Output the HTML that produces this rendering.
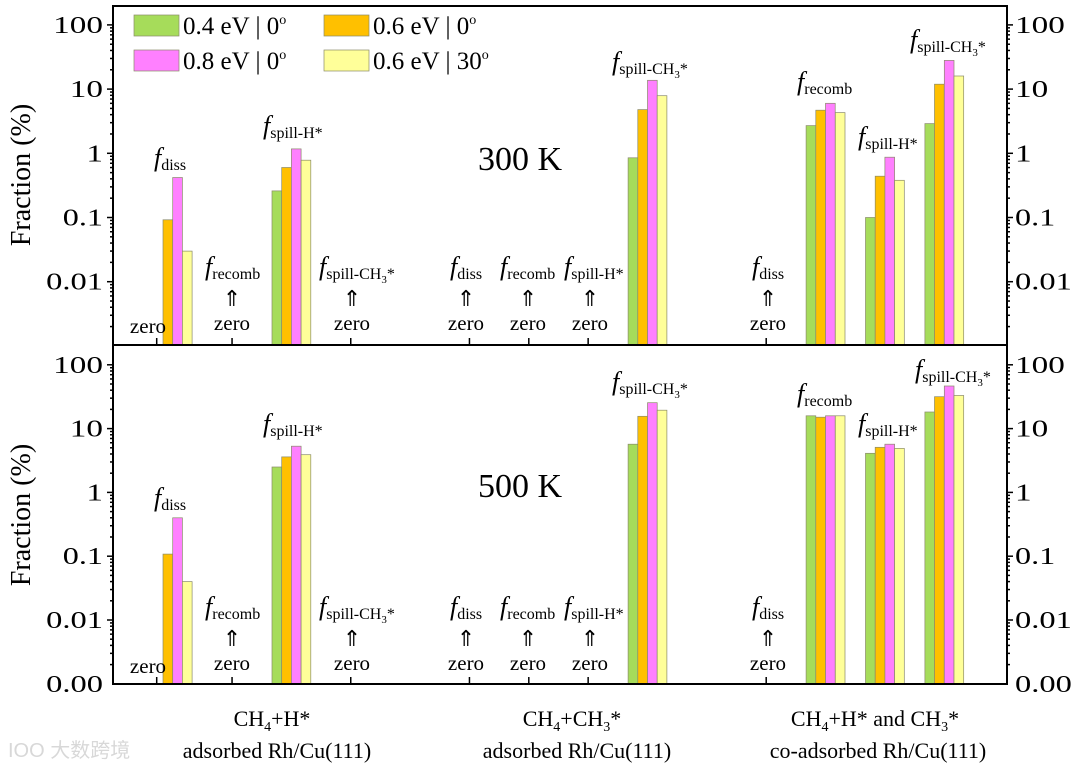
<!DOCTYPE html>
<html><head><meta charset="utf-8">
<style>
html,body{margin:0;padding:0;background:#fff;}
svg{display:block;font-family:"Liberation Serif",serif;}
</style></head>
<body>
<svg id="chart" width="1080" height="768" viewBox="0 0 1080 768" xmlns="http://www.w3.org/2000/svg">
<g id="marks"></g>
<g id="axes"></g>
<g id="annot" font-family="Liberation Serif, serif" fill="#000"></g>
</svg>
<script>
// ---- data ----
const seriesNames = ["0.4 eV | 0º","0.6 eV | 0º","0.8 eV | 0º","0.6 eV | 30º"];
const seriesColors = ["#a6dc5a","#ffc000","#ff80ff","#ffff99"];
// category index slots (0..13) for bar groups
const groupSlots = [0, 2, 8, 11, 12, 13];
const groupLabels = ["diss-h","spillH-h","spillCH3-ch3","recomb-co","spillH-co","spillCH3-co"];
// null = zero (no bar)
const top300_s1 = [null, 0.26, 0.85, 2.7, 0.10, 2.9];
const top300_s2 = [0.092, 0.60, 4.8, 4.7, 0.44, 11.9];
const top300_s3 = [0.42, 1.17, 13.7, 6.0, 0.87, 28];
const top300_s4 = [0.030, 0.78, 7.9, 4.3, 0.38, 16];
const bot500_s1 = [null, 2.5, 5.7, 15.9, 4.1, 18.2];
const bot500_s2 = [0.108, 3.6, 15.6, 15.1, 5.1, 31.6];
const bot500_s3 = [0.40, 5.3, 25.5, 15.9, 5.7, 46.5];
const bot500_s4 = [0.040, 3.9, 19.4, 15.9, 4.9, 33];
const yTickValues = [0.01, 0.1, 1, 10, 100];
const yTickLabels = ["0.01","0.1","1","10","100"];
const zeroSlots = [1, 3, 5, 6, 7, 10];

const NS="http://www.w3.org/2000/svg";
const L=113, R=1007;
const panels=[
  {top:6, bottom:345, y1000:281.7, dec:64.2, data:[top300_s1,top300_s2,top300_s3,top300_s4], name:"300k"},
  {top:345, bottom:684, y1000:620, dec:63.8, data:[bot500_s1,bot500_s2,bot500_s3,bot500_s4], name:"500k"}
];
function xSlot(i){return 172.7+59.35*i;}
function yOf(p,v){return p.y1000-(Math.log10(v)+2)*p.dec;}
function mk(tag,attrs,parent){const e=document.createElementNS(NS,tag);for(const k in attrs)e.setAttribute(k,attrs[k]);parent.appendChild(e);return e;}
function tlen(s){let w=0;for(const c of s)w+=(c==='.')?7:16.6;return w;}
const marks=document.getElementById('marks'), axes=document.getElementById('axes');
const BW=9.7;
panels.forEach(p=>{
  p.data.forEach((ser,s)=>{
    ser.forEach((v,g)=>{
      if(v==null)return;
      const x=xSlot(groupSlots[g])+(s-2)*BW;
      const y=yOf(p,v);
      const r=mk('rect',{x:x.toFixed(1),y:y.toFixed(1),width:BW,height:(p.bottom-y).toFixed(1),fill:seriesColors[s],stroke:"#8a8a6a","stroke-width":0.7},marks);
      
      
    });
  });
  const fr=mk('rect',{x:L,y:p.top,width:R-L,height:p.bottom-p.top,fill:"none",stroke:"#000","stroke-width":2},axes);
  
  
  for(let d=-3; d<=2; d++){
    for(let m=1;m<=9;m++){
      const v=Math.pow(10,d)*m;
      const y=yOf(p,v);
      if(y<p.top+1||y>p.bottom-1)continue;
      const len=(m===1)?6:3;
      mk('line',{x1:L-len,x2:L,y1:y,y2:y,stroke:"#000","stroke-width":1.5},axes);
      mk('line',{x1:R,x2:R+len,y1:y,y2:y,stroke:"#000","stroke-width":1.5},axes);
    }
  }
  yTickValues.forEach((v,i)=>{
    const y=yOf(p,v)+8;
    const lab=yTickLabels[i];
    const t1=mk('text',{x:103-tlen(lab),y:y,"font-size":24,textLength:tlen(lab),lengthAdjust:"spacingAndGlyphs"},axes);t1.textContent=lab;
    
    
    const t2=mk('text',{x:1015,y:y,"font-size":24,textLength:tlen(lab),lengthAdjust:"spacingAndGlyphs"},axes);t2.textContent=lab;
    
    
  });
  const ticks=[xSlot(0)-16].concat(zeroSlots.map(xSlot));
  ticks.forEach(x=>mk('line',{x1:x,x2:x,y1:p.bottom,y2:p.bottom-7,stroke:"#000","stroke-width":1.5},axes));
});
(function(){const w=tlen("0.00");
const t1=mk('text',{x:103-w,y:692,"font-size":24,textLength:w,lengthAdjust:"spacingAndGlyphs"},axes);t1.textContent="0.00";

const t2=mk('text',{x:1015,y:692,"font-size":24,textLength:w,lengthAdjust:"spacingAndGlyphs"},axes);t2.textContent="0.00";
})();
</script>
<script>
const A=document.getElementById('annot');
let h='';
function fl(x,y,sub,nm){return `<text x="${x}" y="${y}" font-size="26"><tspan font-style="italic">f</tspan><tspan font-size="16" dy="4">${sub}</tspan></text>`;}
const CH3='spill-CH<tspan font-size="11" dy="4">3</tspan><tspan dy="-4">*</tspan>';
function zero(x,y,arrow,nm){return (arrow?`<text x="${x}" y="${y-24}" font-size="22" text-anchor="middle">⇑</text>`:'')+`<text x="${x}" y="${y}" font-size="21" text-anchor="middle">zero</text>`;}
[[0,0],[1,340]].forEach(([pi,o])=>{
  h+=zero(148,333+o,false,'zero-label');
  h+=fl(205,275+o,'recomb','label-f-recomb');h+=zero(232,330+o,true,'zero-label');
  h+=fl(319,275+o,CH3,'label-f-spill-ch3');h+=zero(352,330+o,true,'zero-label');
  h+=fl(450,275+o,'diss','label-f-diss');h+=zero(466,330+o,true,'zero-label');
  h+=fl(500,275+o,'recomb','label-f-recomb');h+=zero(528,330+o,true,'zero-label');
  h+=fl(564,275+o,'spill-H*','label-f-spill-h');h+=zero(590,330+o,true,'zero-label');
  h+=fl(752,275+o,'diss','label-f-diss');h+=zero(768,330+o,true,'zero-label');
});
h+=fl(154,166,'diss','label-f-diss');h+=fl(263,134,'spill-H*','label-f-spill-h');
h+=fl(612,70,CH3,'label-f-spill-ch3');h+=fl(797,90,'recomb','label-f-recomb');
h+=fl(858,145,'spill-H*','label-f-spill-h');h+=fl(910,48,CH3,'label-f-spill-ch3');
h+=fl(154,506,'diss','label-f-diss');h+=fl(263,432,'spill-H*','label-f-spill-h');
h+=fl(612,390,CH3,'label-f-spill-ch3');h+=fl(797,402,'recomb','label-f-recomb');
h+=fl(858,432,'spill-H*','label-f-spill-h');h+=fl(915,378,CH3,'label-f-spill-ch3');
h+=`<text x="520" y="170" font-size="34" text-anchor="middle">300 K</text>`;
h+=`<text x="520" y="497" font-size="34" text-anchor="middle">500 K</text>`;
const lg=[[134,15,0,183],[324,15,1,373],[134,50,2,183],[324,50,3,373]];
const cols=["#a6dc5a","#ffc000","#ff80ff","#ffff99"];
const nm=[["0.4 eV | 0","o"],["0.6 eV | 0","o"],["0.8 eV | 0","o"],["0.6 eV | 30","o"]];
lg.forEach(([x,y,i,tx])=>{
  h+=`<g><rect x="${x}" y="${y}" width="45" height="21" fill="${cols[i]}" stroke="#8a8a6a" stroke-width="0.7"/><text x="${tx}" y="${y+19}" font-size="25">${nm[i][0]}<tspan font-size="14" dy="-10">${nm[i][1]}</tspan></text></g>`;
});
h+=`<text transform="translate(30,175) rotate(-90)" font-size="28" text-anchor="middle">Fraction (%)</text>`;
h+=`<text transform="translate(30,515) rotate(-90)" font-size="28" text-anchor="middle">Fraction (%)</text>`;
const sub4='<tspan font-size="14" dy="5">4</tspan><tspan dy="-5">';
const sub3='<tspan font-size="14" dy="5">3</tspan><tspan dy="-5">';
h+=`<text x="272" y="726" font-size="22" text-anchor="middle">CH${sub4}+H*</tspan></text>`;
h+=`<text x="572" y="726" font-size="22" text-anchor="middle">CH${sub4}+CH${sub3}*</tspan></tspan></text>`;
h+=`<text x="875" y="726" font-size="22" text-anchor="middle">CH${sub4}+H* and CH${sub3}*</tspan></tspan></text>`;
h+=`<text x="277" y="758" font-size="22" text-anchor="middle">adsorbed Rh/Cu(111)</text>`;
h+=`<text x="577" y="758" font-size="22" text-anchor="middle">adsorbed Rh/Cu(111)</text>`;
h+=`<text x="878" y="758" font-size="22" text-anchor="middle">co-adsorbed Rh/Cu(111)</text>`;
h+=`<text x="8" y="757" font-size="20" fill="#d8d8d8" font-family="Liberation Sans, Noto Sans CJK SC, sans-serif">IOO 大数跨境</text>`;
A.innerHTML=h;
</script>
</body></html>
